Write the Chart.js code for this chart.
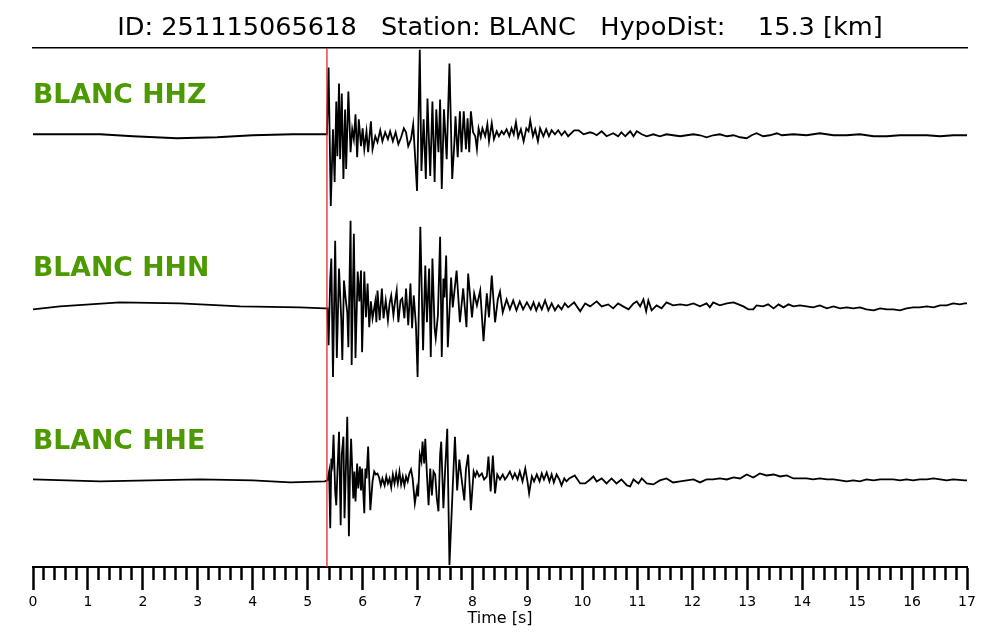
<!DOCTYPE html>
<html>
<head>
<meta charset="utf-8">
<script src="https://cdn.jsdelivr.net/npm/chart.js@4.4.1/dist/chart.umd.min.js"></script>
<style>
  html, body { margin: 0; padding: 0; background: #fff; }
</style>
</head>
<body>
<canvas id="seismo" width="1000" height="640"></canvas>
<script>
const eventId = "251115065618";
const station = "BLANC";
const hypoDist = 15.3;
const channels = ["HHZ", "HHN", "HHE"];
const pickTime = 5.35; // P pick [s]

// [time s, amplitude counts]
const hhz = [
  [0, 0], [1.22, 0], [1.82, -2], [2.62, -4], [3.35, -3], [4.00, -1], [4.73, 0], [5.31, 0], [5.35, 0],
  [5.38, 67], [5.42, -72], [5.46, 5], [5.49, -48], [5.52, 33], [5.54, -22], [5.57, 51], [5.59, -25],
  [5.62, 41], [5.65, -45], [5.68, 25], [5.70, -35], [5.74, 43], [5.78, -18], [5.81, 5], [5.84, -5],
  [5.87, 20], [5.90, -23], [5.93, 15], [5.97, -12], [6.00, 6], [6.03, -15], [6.07, 3], [6.10, -18],
  [6.15, 13], [6.18, -15], [6.23, -2], [6.27, -8], [6.32, 4], [6.36, -7], [6.41, 2], [6.46, -5],
  [6.50, 3], [6.55, -7], [6.60, 2], [6.65, -10], [6.70, -3], [6.75, 6], [6.79, 2], [6.83, -12],
  [6.88, -5], [6.92, 10], [6.95, -18], [6.99, -57], [7.04, 85], [7.07, -37], [7.11, 15], [7.15, -45],
  [7.18, 36], [7.23, -42], [7.27, 33], [7.31, -48], [7.34, 25], [7.38, -18], [7.41, 35], [7.44, -55],
  [7.48, 25], [7.53, -25], [7.58, 71], [7.63, -45], [7.67, -8], [7.69, 18], [7.73, -23], [7.77, 23],
  [7.80, -18], [7.84, 23], [7.88, -15], [7.91, 16], [7.94, -18], [7.97, 23], [8.01, 2], [8.05, -2],
  [8.08, -15], [8.11, 6], [8.15, -3], [8.18, 6], [8.23, -2], [8.27, 10], [8.30, -7], [8.35, 11],
  [8.39, -5], [8.44, 3], [8.48, -2], [8.53, 3], [8.57, 0], [8.62, 5], [8.67, -2], [8.71, 6],
  [8.75, 0], [8.79, 12], [8.83, -3], [8.88, 5], [8.93, -7], [8.98, 6], [9.02, 3], [9.05, 14],
  [9.10, -2], [9.14, 5], [9.19, -7], [9.23, 6], [9.29, -2], [9.34, 5], [9.39, -2], [9.44, 4],
  [9.50, 0], [9.56, 4], [9.62, -1], [9.68, 3], [9.74, -2], [9.85, 4], [9.93, 4], [10.02, 0],
  [10.14, 2], [10.20, 1], [10.26, -1], [10.35, 3], [10.44, -2], [10.56, 1], [10.65, -2], [10.71, 2],
  [10.78, -2], [10.87, 3], [10.93, -2], [10.99, 3], [11.08, 0], [11.17, -2], [11.29, 0], [11.41, -2],
  [11.53, 0], [11.65, -1], [11.78, -2], [11.90, -1], [12.02, 0], [12.14, -1], [12.26, -3], [12.38, -1],
  [12.50, 0], [12.63, -2], [12.75, -1], [12.87, -3], [12.99, -4], [13.08, -1], [13.17, 1], [13.29, -2],
  [13.41, -1], [13.54, 1], [13.63, -1], [13.84, 0], [14.08, -1], [14.32, 1], [14.57, -1], [14.81, -1],
  [15.05, 0], [15.30, -2], [15.54, -2], [15.78, -1], [16.02, -1], [16.27, -1], [16.51, -2], [16.75, -1],
  [16.96, -1], [17.00, -1]
];

const hhn = [
  [0, -2], [0.49, 1], [1.58, 5], [2.68, 4], [3.77, 1], [4.86, 0], [5.31, -1], [5.36, -1],
  [5.38, -38], [5.41, 29], [5.43, 49], [5.46, -70], [5.50, 67], [5.53, -51], [5.57, 39], [5.61, -11],
  [5.63, -53], [5.66, 27], [5.69, 9], [5.72, -5], [5.74, -40], [5.78, 87], [5.80, -58], [5.84, 74],
  [5.87, -51], [5.91, 36], [5.94, 6], [5.97, 37], [5.99, -45], [6.03, 36], [6.06, -10], [6.09, 24],
  [6.12, -20], [6.15, 6], [6.18, -11], [6.23, 6], [6.25, -15], [6.27, 17], [6.31, -13], [6.35, 19],
  [6.38, -11], [6.42, 7], [6.46, -13], [6.49, 4], [6.52, 12], [6.56, -8], [6.59, 6], [6.62, 17],
  [6.65, -15], [6.69, 7], [6.72, 9], [6.76, -11], [6.79, 19], [6.83, -18], [6.87, 24], [6.90, -21],
  [6.93, 12], [6.97, -18], [7.00, -70], [7.05, 81], [7.10, -43], [7.14, 42], [7.17, -15], [7.21, 39],
  [7.24, -50], [7.27, 49], [7.31, -21], [7.33, -31], [7.37, -8], [7.41, 71], [7.44, -50], [7.47, 29],
  [7.49, 10], [7.52, 52], [7.55, -40], [7.61, 30], [7.64, 0], [7.71, 37], [7.77, -15], [7.83, 19],
  [7.89, -20], [7.92, 34], [7.99, -10], [8.03, 14], [8.08, 2], [8.14, 17], [8.20, -34], [8.26, 14],
  [8.30, -10], [8.35, 32], [8.41, -15], [8.46, 8], [8.50, 16], [8.55, -5], [8.62, 8], [8.68, -2],
  [8.74, 7], [8.80, -3], [8.86, 6], [8.92, -2], [8.99, 5], [9.02, 2], [9.06, -2], [9.11, 5],
  [9.16, -3], [9.21, 4], [9.26, -2], [9.32, 7], [9.38, -3], [9.44, 4], [9.50, -3], [9.56, 2],
  [9.62, -2], [9.68, 4], [9.74, 0], [9.85, 5], [9.96, -4], [10.05, 4], [10.14, 1], [10.26, 6],
  [10.35, 1], [10.47, 3], [10.56, -1], [10.65, 4], [10.74, 1], [10.84, -2], [10.93, 4], [10.99, 6],
  [11.05, 1], [11.11, 8], [11.16, -4], [11.20, 7], [11.26, -3], [11.35, 2], [11.44, -1], [11.53, 5],
  [11.65, 2], [11.78, 3], [11.90, 2], [12.02, 4], [12.14, 1], [12.26, 4], [12.32, 0], [12.38, 5],
  [12.50, 2], [12.63, 4], [12.75, 5], [12.84, 3], [12.93, 1], [13.02, -2], [13.11, -2], [13.17, 2],
  [13.29, 1], [13.38, 3], [13.48, -1], [13.57, 3], [13.66, 0], [13.75, 3], [13.84, 1], [13.96, 2],
  [14.08, 1], [14.20, 0], [14.32, 2], [14.45, -1], [14.57, 1], [14.69, -1], [14.81, 0], [14.93, -1],
  [15.05, 0], [15.17, -2], [15.30, -3], [15.42, -1], [15.54, -2], [15.66, -2], [15.78, -3], [15.90, -1],
  [16.02, 0], [16.14, 0], [16.27, 1], [16.39, 0], [16.51, 2], [16.63, 2], [16.75, 4], [16.87, 3],
  [16.96, 4], [17.00, 4]
];

const hhe = [
  [0, 1], [1.22, -1], [3.04, 1], [4.00, 0], [4.68, -2], [5.31, -1], [5.36, 0],
  [5.39, 9], [5.41, -48], [5.43, 22], [5.45, 16], [5.47, 46], [5.50, -11], [5.52, -25], [5.54, 7],
  [5.57, 49], [5.60, -45], [5.62, 26], [5.65, 44], [5.67, -38], [5.70, 22], [5.72, 64], [5.75, -56],
  [5.77, 9], [5.79, 42], [5.83, -18], [5.85, 9], [5.87, -21], [5.90, 17], [5.92, -8], [5.95, 14],
  [5.97, -10], [5.99, 12], [6.03, -33], [6.05, 12], [6.07, 2], [6.10, 34], [6.14, -30], [6.18, -1],
  [6.21, 9], [6.24, 6], [6.27, 7], [6.30, 3], [6.33, -5], [6.36, 2], [6.40, -5], [6.43, 4],
  [6.46, -3], [6.49, 2], [6.52, -7], [6.55, 6], [6.58, -3], [6.61, 7], [6.64, -3], [6.67, 9],
  [6.70, -4], [6.73, 4], [6.76, -5], [6.79, 4], [6.82, -1], [6.85, 7], [6.88, 11], [6.91, 2],
  [6.95, -23], [6.99, -8], [7.01, -16], [7.04, 26], [7.07, 19], [7.09, 39], [7.12, 17], [7.14, 42],
  [7.17, 6], [7.20, -25], [7.23, 12], [7.26, -15], [7.29, 9], [7.32, 6], [7.35, -18], [7.38, -31],
  [7.41, 26], [7.43, 39], [7.47, -28], [7.50, 9], [7.54, 52], [7.58, -85], [7.64, -6], [7.68, 44],
  [7.72, -10], [7.76, 21], [7.80, 2], [7.85, -20], [7.88, 11], [7.92, 26], [7.97, -30], [8.02, 9],
  [8.05, 4], [8.08, 9], [8.12, 4], [8.17, 7], [8.21, 1], [8.26, 4], [8.29, 24], [8.33, -11],
  [8.37, 25], [8.41, -13], [8.45, 6], [8.50, 1], [8.55, 6], [8.59, 1], [8.63, 4], [8.68, 9],
  [8.73, 2], [8.77, 7], [8.82, 1], [8.86, 9], [8.91, -1], [8.96, 12], [9.00, -1], [9.03, -13],
  [9.08, 4], [9.12, -1], [9.17, 6], [9.22, -1], [9.26, 7], [9.30, 1], [9.35, 8], [9.40, -1],
  [9.44, 6], [9.48, -2], [9.53, 6], [9.58, 1], [9.62, -5], [9.67, 2], [9.71, -1], [9.76, 2],
  [9.86, 5], [9.96, -3], [10.05, -3], [10.14, 1], [10.20, 4], [10.26, -1], [10.35, 2], [10.44, -3],
  [10.53, 2], [10.62, -3], [10.71, 1], [10.81, -5], [10.87, -6], [10.93, 1], [11.02, -3], [11.08, 2],
  [11.17, -3], [11.29, -4], [11.41, 0], [11.53, 2], [11.65, -2], [11.78, -1], [11.90, 0], [12.02, 1],
  [12.14, -2], [12.26, 1], [12.38, 1], [12.50, 2], [12.63, 1], [12.75, 3], [12.87, 2], [12.99, 6],
  [13.11, 3], [13.23, 7], [13.35, 5], [13.48, 6], [13.60, 4], [13.72, 5], [13.84, 2], [13.96, 2],
  [14.08, 2], [14.20, 1], [14.32, 2], [14.45, 1], [14.57, 1], [14.69, 0], [14.81, -1], [14.93, 0],
  [15.05, -1], [15.17, 1], [15.30, 0], [15.42, 1], [15.54, 1], [15.66, 1], [15.78, 0], [15.90, 1],
  [16.02, 0], [16.14, 1], [16.27, 1], [16.39, 2], [16.51, 1], [16.63, 0], [16.75, 1], [16.96, 0],
  [17.00, 0]
];

const traces = [hhz, hhn, hhe];
const gain = 87; // counts per trace slot unit
const isWhole = v => Math.abs(v - Math.round(v)) < 1e-6;
const offsetOf = i => 5 - 2 * i;

const colors = {
  trace: "#000000",
  pick: "#e3262b",
  label: "#4c9a00",
};

const font = "DejaVu Sans";

// station/channel names on the left of each trace
const channelLabels = {
  id: "channelLabels",
  afterDatasetsDraw(chart) {
    const { ctx, chartArea, scales } = chart;
    ctx.save();
    ctx.font = "bold 26.7px '" + font + "'";
    ctx.fillStyle = colors.label;
    ctx.textAlign = "left";
    ctx.textBaseline = "alphabetic";
    channels.forEach((ch, i) => {
      ctx.fillText(station + " " + ch, chartArea.left, scales.y.getPixelForValue(offsetOf(i) + 0.36));
    });
    ctx.restore();
  }
};

const datasets = [{
  label: "P pick",
  data: [{ x: pickTime, y: 0 }, { x: pickTime, y: 6 }],
  borderColor: colors.pick,
  borderWidth: 1.3,
  pointRadius: 0,
}];

traces.forEach((tr, i) => {
  datasets.push({
    label: station + " " + channels[i],
    data: tr.map(([t, a]) => ({ x: t, y: offsetOf(i) + a / gain })),
    borderColor: colors.trace,
    borderWidth: 1.8,
    pointRadius: 0,
    tension: 0,
    clip: false,
  });
});

new Chart(document.getElementById("seismo").getContext("2d"), {
  type: "line",
  data: { datasets },
  options: {
    responsive: false,
    animation: false,
    devicePixelRatio: 1,
    events: [],
    layout: { padding: { top: 0, left: 33, right: 33, bottom: 6 } },
    plugins: {
      legend: { display: false },
      tooltip: { enabled: false },
      title: {
        display: true,
        text: "ID: " + eventId + "   Station: " + station + "   HypoDist:    " + hypoDist.toFixed(1) + " [km]",
        color: "#000",
        font: { family: font, size: 25.6, weight: "normal" },
        padding: { top: 13, bottom: -4 },
      },
    },
    scales: {
      x: {
        type: "linear",
        position: "bottom",
        min: 0,
        max: 17,
        ticks: {
          stepSize: 0.2,
          autoSkip: false,
          maxRotation: 0,
          padding: 4,
          color: "#000",
          font: { family: font, size: 14 },
          callback: v => isWhole(v) ? String(Math.round(v)) : "",
        },
        grid: {
          drawOnChartArea: false,
          tickLength: 23,
          tickWidth: 2.5,
          tickColor: "#000",
          tickBorderDash: c => (c.tick && !isWhole(c.tick.value)) ? [12, 40] : [],
        },
        border: { display: true, color: "#000", width: 2 },
        title: {
          display: true,
          text: "Time [s]",
          color: "#000",
          font: { family: font, size: 16 },
          padding: { top: -6, bottom: 6 },
        },
      },
      xTop: {
        type: "linear",
        position: "top",
        min: 0,
        max: 17,
        ticks: { display: false },
        grid: { display: false },
        border: { display: true, color: "#000", width: 1.6 },
      },
      y: { display: false, min: 0, max: 6 },
    },
  },
  plugins: [channelLabels],
});
</script>
</body>
</html>
